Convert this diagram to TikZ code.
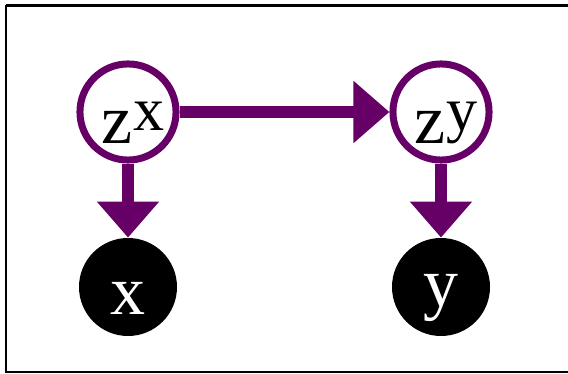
\documentclass[tikz,border=0pt]{standalone}
\usepackage{fontspec}
\setmainfont{Liberation Serif}
\usetikzlibrary{arrows.meta, positioning}
\definecolor{plum}{RGB}{102,0,102}

% label sits a little below the middle of its circle
\newcommand{\sunk}[1]{\raisebox{0pt}[\dimexpr\height+11pt\relax][\depth]{#1}}
\newcommand{\zsup}[1]{\sunk{\kern5pt z\raisebox{6.5pt}{\fontsize{31pt}{31pt}\selectfont #1}}}

\begin{document}
\begin{tikzpicture}[
        x=0.5pt, y=-0.5pt,
        font=\fontsize{35pt}{35pt}\selectfont,
        latent/.style={circle, draw=plum, line width=3.5pt, fill=white, minimum size=45.5pt, inner sep=0pt},
        obs/.style={circle, fill=black, text=white, minimum size=49pt, inner sep=0pt},
        arr/.style={-{Triangle[length=18pt, width=30pt]}, plum, line width=6pt}
    ]
        \useasboundingbox (0,0) rectangle (568,374);
        \clip (0,0) rectangle (568,374);
        \draw[line width=1pt] (6,6) rectangle (580,372);
        \draw[line width=1.5pt] (6,6) -- (580,6);

        \node[latent] (zx) at (128,112) {\zsup{x}};
        \node[latent] (zy) at (441,112) {\zsup{y}};
        \node[obs]    (x)  at (128,287) {\sunk{x}};
        \node[obs]    (y)  at (441,287) {\sunk{y}};

        \draw[arr] (zx) -- (zy);
        \draw[arr] (zx) -- (x);
        \draw[arr] (zy) -- (y);
    \end{tikzpicture}
\end{document}
